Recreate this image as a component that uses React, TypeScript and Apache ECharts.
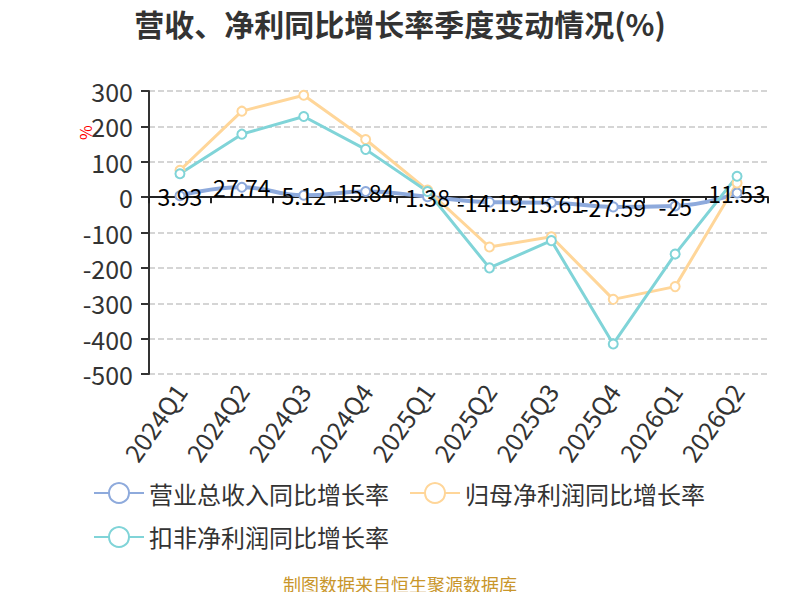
import { useRef, useEffect } from 'react'
import * as echarts from 'echarts'

const quarters = ['2024Q1', '2024Q2', '2024Q3', '2024Q4', '2025Q1', '2025Q2', '2025Q3', '2025Q4', '2026Q1', '2026Q2']
const revenueYoy = [3.93, 27.74, 5.12, 15.84, 1.38, -14.19, -15.61, -27.59, -25, 11.53]
const netProfitYoy = [76, 243, 288, 163, 20, -141, -112, -289, -253, 40]
const deductedProfitYoy = [66, 178, 228, 135, 16, -200, -123, -415, -161, 59]

const seriesNames = ['营业总收入同比增长率', '归母净利润同比增长率', '扣非净利润同比增长率']
const seriesColors = ['#8eaadc', '#ffd699', '#80d4d8']

const FONT = '"Noto Sans CJK SC", "Noto Sans", sans-serif'

export default function App() {
  const chartEl = useRef<HTMLDivElement>(null)

  useEffect(() => {
    if (!chartEl.current) return
    const chart = echarts.init(chartEl.current, null, { renderer: 'svg' })

    const lineSeries = (i: number, data: number[], extra: any = {}) => ({
      name: seriesNames[i],
      type: 'line',
      data,
      symbol: 'emptyCircle',
      symbolSize: 9,
      lineStyle: { color: seriesColors[i], width: 3 },
      itemStyle: { color: seriesColors[i], borderWidth: 2 },
      ...extra,
    })

    chart.setOption({
      animation: false,
      textStyle: { fontFamily: FONT },
      title: {
        text: '营收、净利同比增长率季度变动情况(%)',
        left: 'center',
        top: 3,
        textStyle: { fontSize: 30, fontWeight: 'bold', color: '#333', fontFamily: FONT },
      },
      legend: {
        left: 88,
        top: 476,
        itemWidth: 50,
        itemHeight: 25,
        itemGap: 20,
        textStyle: { fontSize: 24, color: '#333', fontFamily: FONT },
        data: seriesNames,
      },
      grid: { left: 149, right: 32, top: 91, bottom: 226 },
      xAxis: [
        {
          type: 'category',
          data: quarters,
          axisLine: { show: false, onZero: false },
          axisTick: { show: false },
          axisLabel: { rotate: 55, fontSize: 25, color: '#333', margin: 12, fontFamily: FONT },
        },
        {
          type: 'category',
          data: quarters,
          position: 'bottom',
          axisLine: { onZero: true, lineStyle: { color: '#222', width: 2 } },
          axisTick: { show: true, length: 6, lineStyle: { color: '#222', width: 2 } },
          axisLabel: { show: false },
        },
      ],
      yAxis: {
        type: 'value',
        min: -500,
        max: 300,
        interval: 100,
        axisLine: { show: true, lineStyle: { color: '#333', width: 2 } },
        axisTick: { show: true, length: 8, lineStyle: { color: '#333', width: 2 } },
        axisLabel: { fontSize: 25, color: '#333', margin: 16, fontFamily: FONT },
        splitLine: { lineStyle: { color: '#c8c8c8', type: 'dashed', width: 1.5 } },
      },
      graphic: [
        {
          type: 'text',
          x: 77,
          y: 140,
          rotation: Math.PI / 2,
          style: { text: '%', fill: '#ff0000', fontSize: 16, fontFamily: FONT },
        },
        {
          type: 'text',
          left: 'center',
          top: 575,
          style: { text: '制图数据来自恒生聚源数据库', fill: '#c9962b', fontSize: 18, fontFamily: FONT },
        },
      ],
      series: [
        lineSeries(0, revenueYoy, {
          smooth: true,
          lineStyle: { color: seriesColors[0], width: 4 },
          label: {
            show: true,
            position: 'inside',
            color: '#000',
            fontSize: 23,
            fontFamily: FONT,
          },
        }),
        lineSeries(1, netProfitYoy),
        lineSeries(2, deductedProfitYoy),
      ],
    })

    return () => chart.dispose()
  }, [])

  return <div ref={chartEl} style={{ width: 800, height: 600, margin: -8 }} />
}
